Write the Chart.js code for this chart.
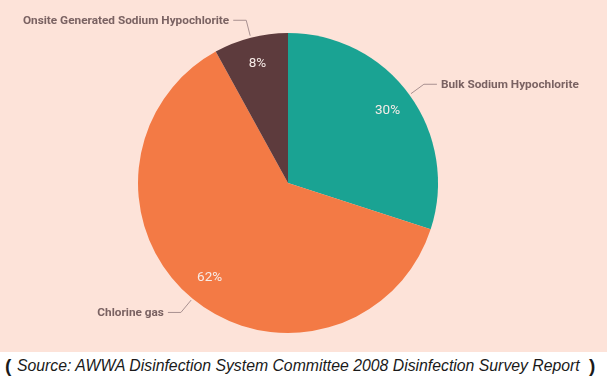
<!DOCTYPE html>
<html>
<head>
<meta charset="utf-8">
<script src="https://cdn.jsdelivr.net/npm/chart.js@4/dist/chart.umd.min.js"></script>
<style>
  html, body { margin: 0; padding: 0; background: #ffffff; }
  #wrap { position: absolute; left: 0; top: 0; width: 607px; height: 352px; background: #FDE3D9; }
  #caption { position: absolute; left: 0; top: 352px; width: 607px; height: 30px; background: #fff;
    font-family: "Liberation Sans", Arial, sans-serif; font-style: italic; font-size: 15.8px; color: #1a1a1a;
    white-space: nowrap; }
  #caption .p { font-style: normal; font-weight: bold; font-size: 19px; position: absolute; top: 3px; }
  #caption .t { position: absolute; left: 17px; top: 5px; }
</style>
</head>
<body>
<div id="wrap"><canvas id="c" width="607" height="352"></canvas></div>
<div id="caption"><span class="p" style="left:5px">(</span><span class="t">Source: AWWA Disinfection System Committee 2008 Disinfection Survey Report</span><span class="p" style="left:589px">)</span></div>
<script>
const categories = ["Bulk Sodium Hypochlorite", "Chlorine gas", "Onsite Generated Sodium Hypochlorite"];
const values = [30, 62, 8];
const valueLabels = ["30%", "62%", "8%"];
const colors = ["#1AA393", "#F37A45", "#5D3B3D"];

const labelPlugin = {
  id: 'outLabels',
  afterDatasetsDraw(chart) {
    const ctx = chart.ctx;
    const meta = chart.getDatasetMeta(0);
    ctx.save();
    meta.data.forEach((arc, i) => {
      const p = arc.getProps(['x','y','startAngle','endAngle','outerRadius'], true);
      const mid = (p.startAngle + p.endAngle) / 2;
      const c = Math.cos(mid), s = Math.sin(mid);
      const r = p.outerRadius;
      ctx.fillStyle = '#F7ECE8';
      ctx.font = '13.5px Roboto, "Noto Sans", sans-serif';
      ctx.textAlign = 'center';
      ctx.textBaseline = 'middle';
      ctx.fillText(valueLabels[i], p.x + c * r * 0.82, p.y + s * r * 0.82);
      const x0 = p.x + c * (r + 2), y0 = p.y + s * (r + 2);
      const x1 = p.x + c * (r + 18), y1 = p.y + s * (r + 18);
      const dir = c >= 0 ? 1 : -1;
      const x2 = x1 + dir * 13;
      ctx.strokeStyle = '#A89090';
      ctx.lineWidth = 1;
      ctx.beginPath();
      ctx.moveTo(x0, y0); ctx.lineTo(x1, y1); ctx.lineTo(x2, y1);
      ctx.stroke();
      ctx.fillStyle = '#7A6262';
      ctx.font = 'bold 11.8px Roboto, "Noto Sans", sans-serif';
      ctx.textAlign = dir > 0 ? 'left' : 'right';
      ctx.fillText(categories[i], x2 + dir * 4, y1 + 1);
    });
    ctx.restore();
  }
};

new Chart(document.getElementById('c'), {
  type: 'pie',
  data: {
    labels: categories,
    datasets: [{ data: values, backgroundColor: colors, borderWidth: 0 }]
  },
  options: {
    responsive: false,
    animation: false,
    layout: { padding: { top: 33, bottom: 19, left: 138, right: 169 } },
    plugins: { legend: { display: false }, tooltip: { enabled: false } }
  },
  plugins: [labelPlugin]
});
</script>
</body>
</html>
